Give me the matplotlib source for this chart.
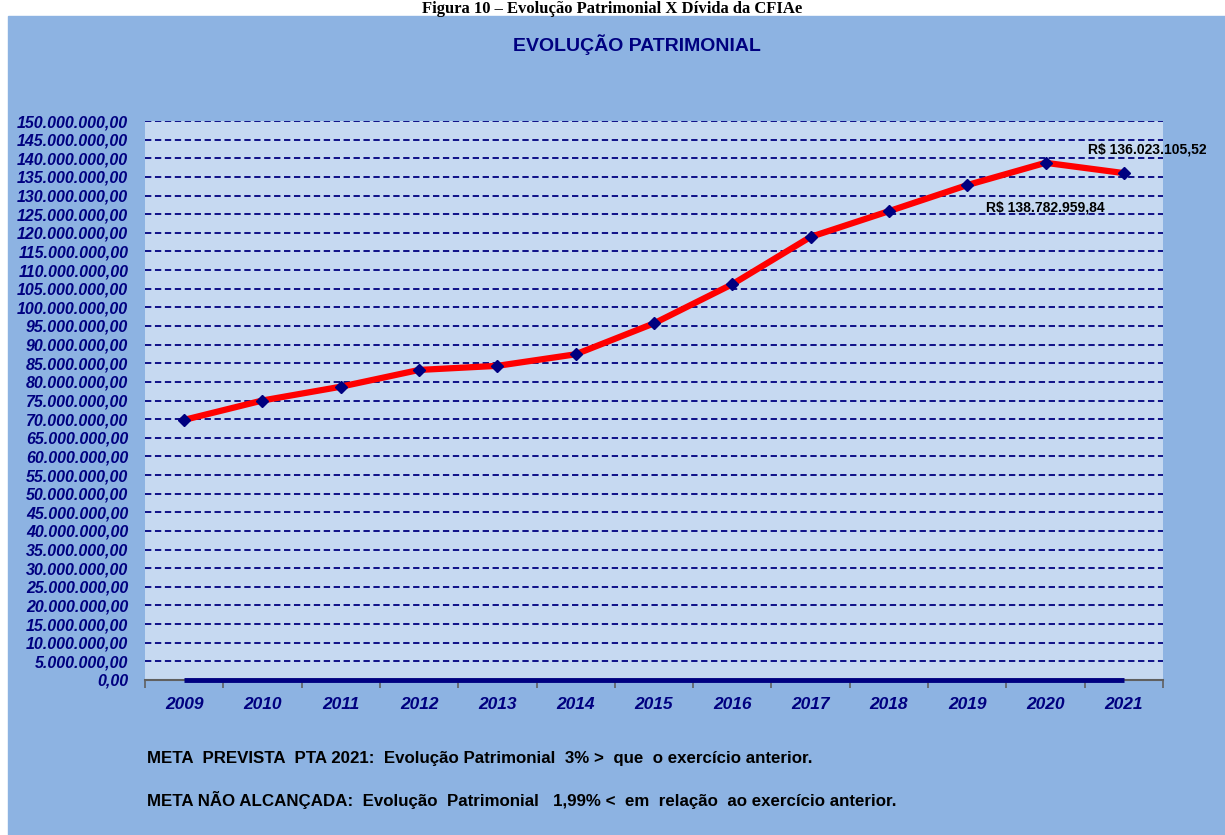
# Evolucao patrimonial - recriacao do grafico
import matplotlib.pyplot as plt
from matplotlib.patches import Rectangle
from matplotlib.ticker import FuncFormatter, MultipleLocator

anos = ['2009', '2010', '2011', '2012', '2013', '2014', '2015',
        '2016', '2017', '2018', '2019', '2020', '2021']
patrimonio = [69.8e6, 75.0e6, 78.7e6, 83.2e6, 84.3e6, 87.4e6, 95.7e6,
              106.2e6, 118.9e6, 125.8e6, 132.8e6, 138782959.84, 136023105.52]
divida = [0] * len(anos)

rotulos = ['R$ 138.782.959,84', 'R$ 136.023.105,52']
notas = ['META  PREVISTA  PTA 2021:  Evolução Patrimonial  3% >  que  o exercício anterior.',
         'META NÃO ALCANÇADA:  Evolução  Patrimonial   1,99% <  em  relação  ao exercício anterior.']

navy = '#000080'
fundo = '#8DB3E2'
area = '#C6D9F1'
fonte = ['Liberation Sans', 'DejaVu Sans']

W, H = 1225, 835
fig = plt.figure(figsize=(W / 100, H / 100), dpi=100)
fig.patch.set_facecolor('white')

# painel azul do grafico
painel = Rectangle((8 / W, 0), 1 - 8 / W, 1 - 16 / H,
                   transform=fig.transFigure, color=fundo, zorder=-10)
fig.add_artist(painel)

fig.text(0.5, 1 - 13 / H, 'Figura 10 – Evolução Patrimonial X Dívida da CFIAe',
         ha='center', va='baseline', fontsize=12, fontweight='bold',
         family='Liberation Serif')
fig.text(637 / W, 1 - 45 / H, 'EVOLUÇÃO PATRIMONIAL', ha='center', va='center',
         fontsize=14, fontweight='bold', color=navy, family=fonte)

ax = fig.add_axes([145 / W, 1 - 680 / H, 1018 / W, 559 / H])
ax.set_facecolor(area)

x = range(len(anos))
ax.plot(x, divida, color=navy, lw=3.5, zorder=3, clip_on=False,
        solid_capstyle='butt')
ax.plot(x, patrimonio, color='red', lw=4.5, zorder=4)
ax.plot(x, patrimonio, ls='none', marker='D', ms=6, color=navy, zorder=5)

ax.set_xlim(-0.5, len(anos) - 0.5)
ax.set_ylim(0, 150e6)
ax.yaxis.set_major_locator(MultipleLocator(5e6))
ax.yaxis.set_major_formatter(FuncFormatter(
    lambda v, p: f'{v:,.2f}'.replace(',', 'X').replace('.', ',').replace('X', '.')))
ax.grid(axis='y', color=navy, ls=(0, (3.5, 2)), lw=1.3)
ax.set_axisbelow(True)

ax.set_xticks(x)
ax.set_xticklabels(anos)
ax.set_xticks([i - 0.5 for i in range(len(anos) + 1)], minor=True)
ax.tick_params(axis='x', which='major', length=0, pad=12)
ax.tick_params(axis='x', which='minor', length=6, color='#606060', width=1.2)
ax.tick_params(axis='y', length=0, pad=12)
for lab in ax.get_xticklabels():
    lab.set(fontsize=12.5, fontweight='bold', style='italic', color=navy, family=fonte)
for lab in ax.get_yticklabels():
    lab.set(fontsize=11.5, fontweight='bold', style='italic', color=navy, family=fonte)

for s in ['left', 'right', 'top']:
    ax.spines[s].set_visible(False)
ax.spines['bottom'].set_color('#606060')
ax.spines['bottom'].set_linewidth(1.5)

# rotulos de dados
ax.annotate(rotulos[0], (11, patrimonio[11]), xytext=(-43, -32),
            textcoords='offset points', fontsize=10, fontweight='bold',
            family=fonte, va='center')
ax.annotate(rotulos[1], (12, patrimonio[12]), xytext=(-26, 17),
            textcoords='offset points', fontsize=10, fontweight='bold',
            family=fonte, va='center', annotation_clip=False)

fig.text(147 / W, 1 - 759 / H, notas[0], ha='left', va='center', fontsize=12.2,
         fontweight='bold', family=fonte)
fig.text(147 / W, 1 - 800 / H, notas[1], ha='left', va='center', fontsize=12.2,
         fontweight='bold', family=fonte)

fig.savefig('out.png', dpi=100, facecolor=fig.get_facecolor())
